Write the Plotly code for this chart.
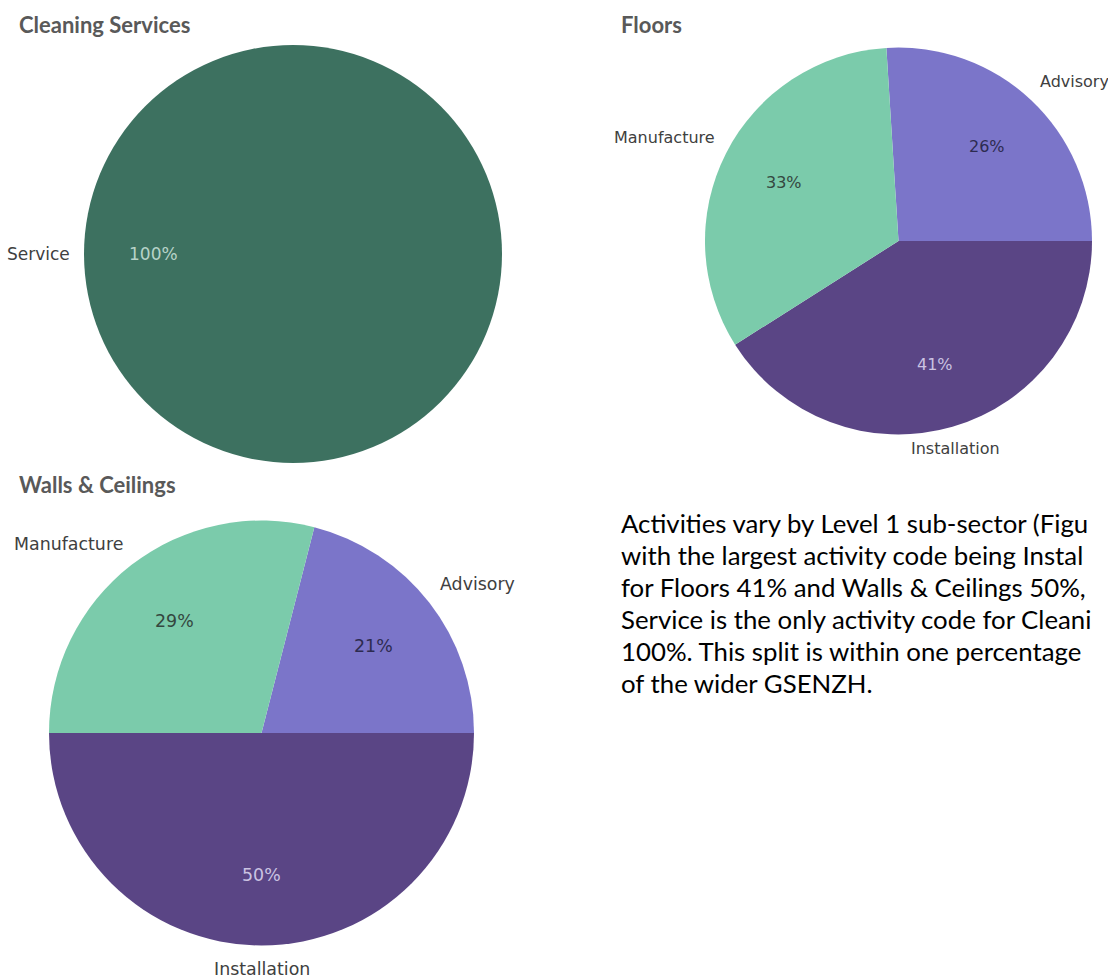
import math
import plotly.graph_objects as go

W, H = 1108, 979

# Activity split per Level 1 sub-sector (%)
cleaning_labels = ["Service"]
cleaning_values = [100]

floors_labels = ["Advisory", "Installation", "Manufacture"]
floors_values = [26, 41, 33]

walls_labels = ["Advisory", "Installation", "Manufacture"]
walls_values = [21, 50, 29]

colour_map = {
    "Service": "#3d7160",
    "Advisory": "#7b75c9",
    "Installation": "#5a4585",
    "Manufacture": "#7bcbab",
}
pct_text_colour = {
    "Service": "#b8d3c8",
    "Advisory": "#2d2b50",
    "Installation": "#cbc3e2",
    "Manufacture": "#34473f",
}

paragraph = [
    "Activities vary by Level 1 sub-sector (Figu",
    "with the largest activity code being Instal",
    "for Floors 41% and Walls & Ceilings 50%,",
    "Service is the only activity code for Cleani",
    "100%. This split is within one percentage",
    "of the wider GSENZH.",
]

LABEL_FAMILY = "DejaVu Sans"
LABEL_COLOUR = "#404040"


def box(cx, cy, r):
    """Pie domain (paper units) for a circle given in page pixels."""
    return dict(x=[(cx - r) / W, (cx + r) / W],
                y=[1 - (cy + r) / H, 1 - (cy - r) / H])


def start_angle(values):
    # first slice (Advisory) ends at three o'clock
    return 90 - 360 * values[0] / sum(values)


fig = go.Figure()
annotations = []


def add_pie(labels, values, centre, rotation, font_size):
    cx, cy, r = centre
    fig.add_trace(go.Pie(
        labels=labels, values=values, domain=box(cx, cy, r), sort=False,
        direction="clockwise", rotation=rotation,
        marker=dict(colors=[colour_map[l] for l in labels], line=dict(width=0)),
        textinfo="none", showlegend=False, hoverinfo="label+percent",
    ))

    # percentage inside each slice and its name just outside the rim,
    # both along the slice's mid-angle
    total = sum(values)
    angle = rotation
    for lab, v in zip(labels, values):
        span = 360 * v / total
        mid = math.radians(angle + span / 2)
        angle += span
        s, c = math.sin(mid), math.cos(mid)

        pr = 0.667 * r
        annotations.append(dict(
            text=f"{100 * v / total:.0f}%",
            x=(cx + pr * s) / W, y=1 - (cy - pr * c) / H,
            xref="paper", yref="paper", xanchor="center", yanchor="middle",
            showarrow=False, borderpad=0, borderwidth=0,
            font=dict(family=LABEL_FAMILY, size=font_size,
                      color=pct_text_colour[lab]),
        ))

        lr = 1.065 * r
        xanchor = "left" if s > 0.5 else ("right" if s < -0.5 else "center")
        yanchor = "bottom" if c > 0.3 else ("top" if c < -0.3 else "middle")
        annotations.append(dict(
            text=lab,
            x=(cx + lr * s) / W, y=1 - (cy - lr * c) / H,
            xref="paper", yref="paper", xanchor=xanchor, yanchor=yanchor,
            showarrow=False, borderpad=0, borderwidth=0,
            font=dict(family=LABEL_FAMILY, size=font_size, color=LABEL_COLOUR),
        ))


clean_c = (293, 254, 209)
floors_c = (898.5, 241, 193.5)
walls_c = (261.5, 733, 212.5)

add_pie(cleaning_labels, cleaning_values, clean_c, 90, 17)
add_pie(floors_labels, floors_values, floors_c, start_angle(floors_values), 16)
add_pie(walls_labels, walls_values, walls_c, start_angle(walls_values), 17.4)

TITLE_FONT = dict(family="Lato", size=22, color="#595959")
for title, x, y in [("Cleaning Services", 17, 24), ("Floors", 619, 24),
                    ("Walls & Ceilings", 17, 484)]:
    annotations.append(dict(
        text=f"<b>{title}</b>", x=x / W, y=1 - y / H, xref="paper", yref="paper",
        xanchor="left", yanchor="middle", showarrow=False, font=TITLE_FONT,
    ))

for i, line in enumerate(paragraph):
    annotations.append(dict(
        text=line, x=619 / W, y=1 - (523 + 32 * i) / H, xref="paper", yref="paper",
        xanchor="left", yanchor="middle", showarrow=False,
        font=dict(family="Lato", size=25.8, color="#000000"),
    ))

fig.update_layout(
    width=W, height=H, margin=dict(l=0, r=0, t=0, b=0),
    paper_bgcolor="white", plot_bgcolor="white",
    annotations=annotations,
)

fig.write_html("out.html")
